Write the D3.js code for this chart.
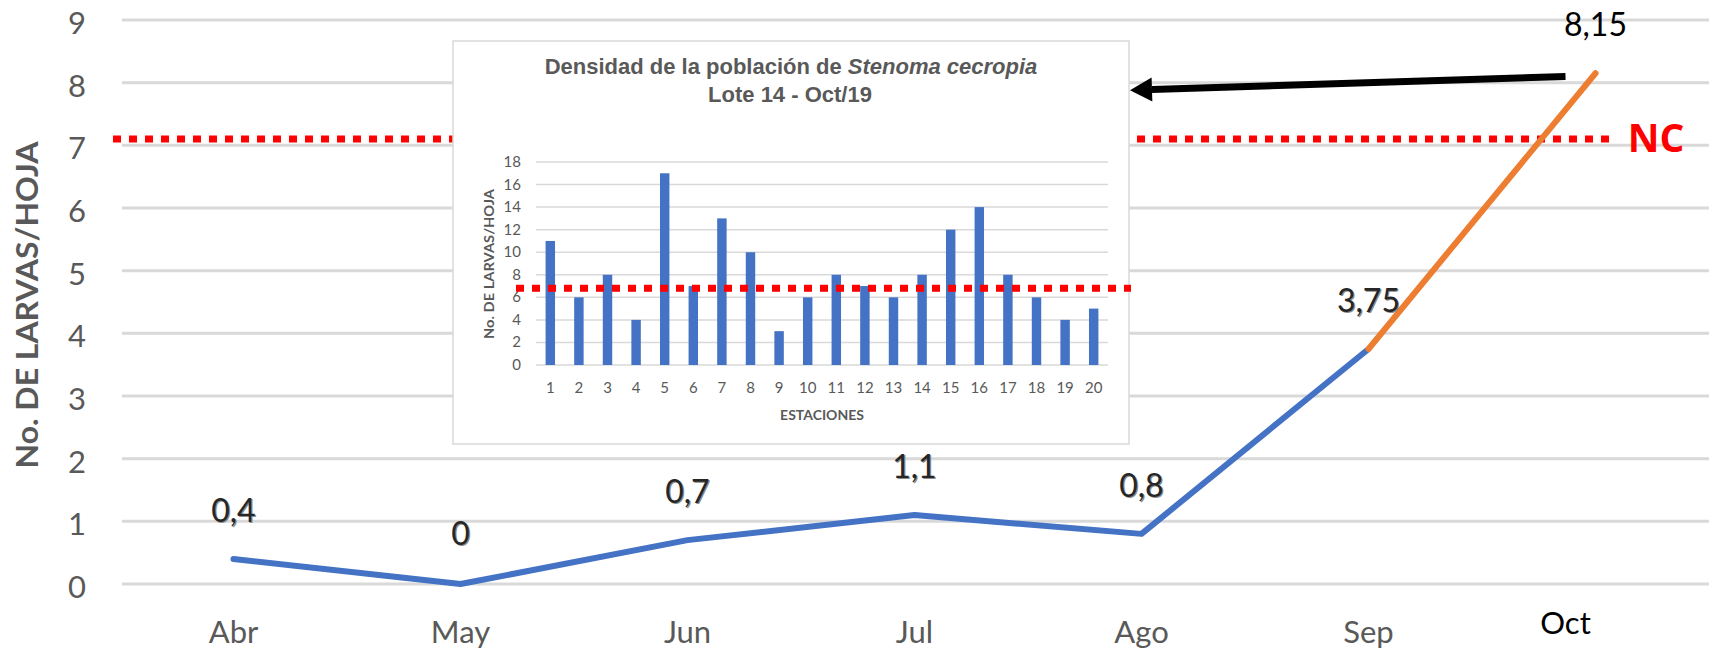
<!DOCTYPE html>
<html lang="es">
<head>
<meta charset="utf-8">
<script src="https://cdn.jsdelivr.net/npm/d3@7"></script>
<style>
  * { margin: 0; padding: 0; }
  body { background: #fff; width: 1723px; height: 654px; overflow: hidden; }
  svg { font-family: Lato, "Open Sans", sans-serif; }
</style>
</head>
<body>
<svg id="chart"></svg>
<script>
// main series (monthly larvae density)
const months = ['Abr', 'May', 'Jun', 'Jul', 'Ago', 'Sep', 'Oct'];
const density = [0.4, 0, 0.7, 1.1, 0.8, 3.75, 8.15];
const densityLabels = ['0,4', '0', '0,7', '1,1', '0,8', '3,75', '8,15'];
const yTicks = [0, 1, 2, 3, 4, 5, 6, 7, 8, 9];
const threshold = 7.1;

// inset: stations of Lote 14 - Oct/19
const stations = d3.range(1, 21);
const stationValues = [11, 6, 8, 4, 17, 7, 13, 10, 3, 6, 8, 7, 6, 8, 12, 14, 8, 6, 4, 5];
const insetTicks = [0, 2, 4, 6, 8, 10, 12, 14, 16, 18];
const insetThreshold = 6.8;

const W = 1723, H = 654;
const svg = d3.select('#chart').attr('width', W).attr('height', H);

const x = d3.scaleBand().domain(months).range([120, 1709]);
const y = d3.scaleLinear().domain([0, 9]).range([584, 20]);
const cx = d => x(d) + x.bandwidth() / 2;

// gridlines
svg.append('g').selectAll('line').data(yTicks).join('line')
  .attr('x1', 122).attr('x2', 1709)
  .attr('y1', d => y(d)).attr('y2', d => y(d))
  .attr('stroke', '#d9d9d9').attr('stroke-width', 3);

// y tick labels
svg.append('g').selectAll('text').data(yTicks).join('text')
  .attr('x', 77).attr('y', d => y(d) + 14)
  .attr('text-anchor', 'middle')
  .attr('font-size', 31).attr('fill', '#595959')
  .text(d => d);

// y title
svg.append('text')
  .attr('transform', 'translate(38,305) rotate(-90)')
  .attr('text-anchor', 'middle')
  .attr('font-size', 31).attr('font-weight', 'bold').attr('fill', '#595959')
  .attr('textLength', 327).attr('lengthAdjust', 'spacingAndGlyphs')
  .text('No. DE LARVAS/HOJA');

// x labels
svg.append('g').selectAll('text').data(months).join('text')
  .attr('x', d => d === 'Oct' ? cx(d) - 30 : cx(d))
  .attr('y', d => d === 'Oct' ? 634 : 643)
  .attr('text-anchor', 'middle')
  .attr('font-size', 31)
  .attr('fill', d => d === 'Oct' ? '#000' : '#595959')
  .text(d => d);

// NC threshold
svg.append('line')
  .attr('x1', 113).attr('x2', 1611)
  .attr('y1', y(threshold)).attr('y2', y(threshold))
  .attr('stroke', '#ff0000').attr('stroke-width', 7)
  .attr('stroke-dasharray', '8,8');
svg.append('text')
  .attr('x', 1656).attr('y', 152)
  .attr('text-anchor', 'middle')
  .style('font-family', '"Open Sans", sans-serif')
  .attr('font-size', 39).attr('font-weight', 'bold').attr('fill', '#ff0000')
  .text('NC');

// inset chart
const box = { x0: 453, y0: 41, x1: 1129, y1: 444 };
const inset = svg.append('g');
inset.append('rect')
  .attr('x', box.x0).attr('y', box.y0)
  .attr('width', box.x1 - box.x0).attr('height', box.y1 - box.y0)
  .attr('fill', '#fff').attr('stroke', '#d9d9d9').attr('stroke-width', 1.5);

const title = inset.append('text')
  .attr('text-anchor', 'middle')
  .style('font-family', '"Liberation Sans", Arial, sans-serif')
  .attr('font-size', 22).attr('font-weight', 'bold').attr('fill', '#595959');
title.append('tspan').attr('x', 791).attr('y', 74).text('Densidad de la población de ');
title.append('tspan').attr('font-style', 'italic').text('Stenoma cecropia');
title.append('tspan').attr('x', 790).attr('y', 102).text('Lote 14 - Oct/19');

const ix = d3.scaleBand().domain(stations).range([536, 1108]).paddingInner(0.67).paddingOuter(0.335);
const iy = d3.scaleLinear().domain([0, 18]).range([365, 162]);

inset.append('g').selectAll('line').data(insetTicks).join('line')
  .attr('x1', 536).attr('x2', 1108)
  .attr('y1', d => iy(d)).attr('y2', d => iy(d))
  .attr('stroke', '#d9d9d9').attr('stroke-width', 1.5);

inset.append('g').selectAll('text').data(insetTicks).join('text')
  .attr('x', 521).attr('y', d => iy(d) + 5)
  .attr('text-anchor', 'end')
  .attr('font-size', 15).attr('fill', '#595959')
  .text(d => d);

inset.append('g').selectAll('rect').data(stationValues).join('rect')
  .attr('x', (d, i) => ix(stations[i]))
  .attr('y', d => iy(d))
  .attr('width', ix.bandwidth())
  .attr('height', d => iy(0) - iy(d))
  .attr('fill', '#4472c4');

inset.append('g').selectAll('text').data(stations).join('text')
  .attr('x', d => ix(d) + ix.bandwidth() / 2).attr('y', 393)
  .attr('text-anchor', 'middle')
  .attr('font-size', 15).attr('fill', '#595959')
  .text(d => d);

inset.append('text')
  .attr('x', 822).attr('y', 420)
  .attr('text-anchor', 'middle')
  .attr('font-size', 14).attr('font-weight', 'bold').attr('fill', '#595959')
  .text('ESTACIONES');

inset.append('text')
  .attr('transform', 'translate(494,264) rotate(-90)')
  .attr('text-anchor', 'middle')
  .attr('font-size', 14).attr('font-weight', 'bold').attr('fill', '#595959')
  .attr('textLength', 150).attr('lengthAdjust', 'spacingAndGlyphs')
  .text('No. DE LARVAS/HOJA');

inset.append('line')
  .attr('x1', 516).attr('x2', 1131)
  .attr('y1', iy(insetThreshold)).attr('y2', iy(insetThreshold))
  .attr('stroke', '#ff0000').attr('stroke-width', 7)
  .attr('stroke-dasharray', '8,8');

// main line: blue up to Sep, orange Sep -> Oct
const pts = months.map((m, i) => [cx(m), y(density[i])]);
const line = d3.line();
svg.append('path')
  .attr('d', line(pts.slice(0, 6)))
  .attr('fill', 'none').attr('stroke', '#4472c4').attr('stroke-width', 6)
  .attr('stroke-linejoin', 'round').attr('stroke-linecap', 'round');
svg.append('path')
  .attr('d', line(pts.slice(5)))
  .attr('fill', 'none').attr('stroke', '#ed7d31').attr('stroke-width', 6)
  .attr('stroke-linecap', 'round');

// data labels (slightly doubled like the original)
const labels = svg.append('g');
months.forEach((m, i) => {
  const last = i === months.length - 1;
  const yy = y(density[i]) - (density[i] === 0 ? 39 : 37);
  if (!last) {
    labels.append('text')
      .attr('x', cx(m) + 1.2).attr('y', yy + 0.8)
      .attr('text-anchor', 'middle').attr('font-size', 32)
      .attr('fill', '#8c8c8c').text(densityLabels[i]);
  }
  labels.append('text')
    .attr('x', cx(m)).attr('y', yy)
    .attr('text-anchor', 'middle').attr('font-size', 32)
    .attr('fill', last ? '#000' : '#262626').text(densityLabels[i]);
});

// arrow from Oct value to the inset
const tail = [cx('Oct') - 30, y(8.1)];
const tip = [box.x1 + 1, y(7.88)];
const ang = Math.atan2(tip[1] - tail[1], tip[0] - tail[0]);
const headLen = 22, headW = 12;
const base = [tip[0] - headLen * Math.cos(ang), tip[1] - headLen * Math.sin(ang)];
svg.append('line')
  .attr('x1', tail[0]).attr('y1', tail[1])
  .attr('x2', base[0]).attr('y2', base[1])
  .attr('stroke', '#000').attr('stroke-width', 7);
svg.append('path')
  .attr('d', `M${tip[0]},${tip[1]}L${base[0] - headW * Math.sin(ang)},${base[1] + headW * Math.cos(ang)}L${base[0] + headW * Math.sin(ang)},${base[1] - headW * Math.cos(ang)}Z`)
  .attr('fill', '#000');
</script>
</body>
</html>
